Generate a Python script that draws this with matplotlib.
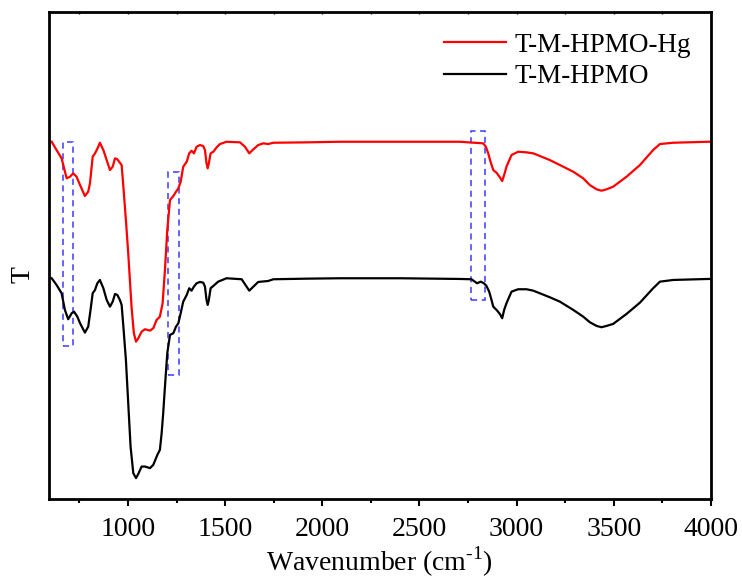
import matplotlib
matplotlib.use("Agg")
import matplotlib.pyplot as plt
from matplotlib.patches import Rectangle

plt.rcParams["font.family"] = "Liberation Serif"
plt.rcParams["mathtext.fontset"] = "custom"
plt.rcParams["mathtext.rm"] = "Liberation Serif"
plt.rcParams["font.size"] = 20

# T-M-HPMO-Hg (red), arbitrary transmittance units
wn_hg = [607, 632, 658, 684, 701, 718, 735, 753, 778, 795, 804, 818, 830, 847, 855,
         873, 890, 907, 921, 933, 945, 958, 967, 976, 989, 1001, 1018, 1030, 1041,
         1053, 1070, 1087, 1113, 1130, 1147, 1164, 1178, 1190, 1202, 1216, 1233,
         1247, 1259, 1271, 1284, 1302, 1315, 1327, 1339, 1353, 1370, 1387, 1396,
         1404, 1410, 1416, 1425, 1439, 1456, 1473, 1507, 1576, 1602, 1624, 1645,
         1670, 1696, 1722, 1748, 1919, 2091, 2400, 2708, 2828, 2842, 2854, 2866,
         2880, 2897, 2914, 2926, 2936, 2948, 2974, 3008, 3051, 3086, 3171, 3223,
         3292, 3343, 3377, 3412, 3437, 3463, 3497, 3566, 3635, 3703, 3738, 3806,
         3986, 4000]
t_hg = [357.3, 349, 340.7, 320.7, 322.3, 325.7, 322.3, 314, 303, 307.3, 315.7, 342.3,
        345.7, 352.3, 356.3, 349, 339, 329, 332.3, 340.7, 339.7, 336.3, 334, 312.3,
        279, 245.7, 192.3, 165.7, 157.3, 160.7, 167.3, 169.7, 168.3, 170.7, 179,
        182.3, 195.7, 229, 269, 299, 303, 307.3, 310.7, 317.3, 332.3, 337.3, 345.7,
        348.3, 345.7, 352.3, 354, 353, 349, 335.7, 330.7, 335.7, 345.7, 347.3, 351.7,
        355, 357.3, 356.7, 352.3, 345.7, 349.7, 354, 355.7, 355, 356.3, 356.7, 357.3,
        357.3, 357.3, 355.7, 352.3, 345.7, 337.3, 329, 326.3, 321.7, 318, 324, 332.3,
        344, 347.3, 346.7, 345.7, 339, 334, 327.3, 320.7, 314, 309.7, 308.3, 309.7,
        312.3, 322.3, 334, 349, 355, 356.3, 357.3, 357.3]

# T-M-HPMO (black)
wn_t = [607, 632, 658, 675, 692, 710, 722, 739, 753, 778, 795, 807, 818, 830, 842,
        855, 873, 890, 907, 921, 933, 945, 958, 967, 976, 989, 1001, 1013, 1027,
        1041, 1053, 1070, 1087, 1113, 1130, 1151, 1164, 1173, 1181, 1190, 1202,
        1216, 1233, 1247, 1259, 1271, 1284, 1302, 1315, 1327, 1339, 1353, 1370,
        1387, 1396, 1404, 1410, 1416, 1425, 1439, 1464, 1507, 1585, 1624, 1645,
        1670, 1722, 1748, 1919, 2091, 2400, 2708, 2768, 2785, 2797, 2815, 2832,
        2845, 2859, 2871, 2880, 2897, 2914, 2926, 2936, 2948, 2974, 3008, 3051,
        3086, 3171, 3223, 3292, 3343, 3377, 3412, 3437, 3463, 3497, 3566, 3635,
        3703, 3738, 3806, 3986, 4000]
t_t = [220.7, 214, 205.7, 189, 179.7, 185.7, 187.3, 182.3, 175.7, 166.3, 172.3, 189,
       205.7, 209, 215.7, 219, 210.7, 199, 192.3, 197.3, 205, 204, 199, 194, 172.3,
       139, 95.7, 52.3, 25.7, 20.7, 25, 32.3, 32.3, 30.7, 34, 44, 49, 65.7, 85.7,
       112.3, 145.7, 164, 165.7, 172.3, 175.7, 185.7, 197.3, 204, 210.7, 208.3,
       212.3, 215.7, 217, 216.3, 212.3, 199, 194, 199, 210.7, 213, 217.3, 220.7,
       219.7, 208.3, 212.3, 217, 218, 219.7, 220.3, 220.7, 220.7, 220, 219.7, 217.3,
       215.7, 217.3, 215.7, 213, 207.3, 199, 192.3, 189, 185, 180.7, 189, 195.7,
       207.3, 209.7, 209.7, 208.3, 201.7, 197.3, 189, 182.3, 176.7, 173, 171.7, 173,
       175, 185, 196.3, 210.7, 217.3, 219, 220, 220]

# highlighted regions: (wn_min, wn_max, t_min, t_max)
boxes = [(663, 718, 153, 357), (1207, 1264, 124, 327), (2765, 2837, 199, 368)]

fig = plt.figure(figsize=(7.42, 5.78), dpi=100)
ax = fig.add_axes([0.066, 0.137, 0.892, 0.842])

ax.plot(wn_hg, t_hg, color="red", lw=1.6, label="T-M-HPMO-Hg")
ax.plot(wn_t, t_t, color="black", lw=1.6, label="T-M-HPMO")

for x0, x1, y0, y1 in boxes:
    ax.add_patch(Rectangle((x0, y0), x1 - x0, y1 - y0, fill=False,
                           edgecolor="#3a3aff", lw=1.1, linestyle=(0, (4, 3))))

ax.set_xlim(593, 4000)
ax.set_ylim(0, 487)
ax.set_xticks(range(1000, 4001, 500))
ax.set_xticks(range(750, 4000, 500), minor=True)
ax.set_yticks([])
ax.tick_params(axis="x", which="major", direction="out", length=5, width=1.5, pad=8)
ax.tick_params(axis="x", which="minor", direction="out", length=3, width=1.5)
ax.tick_params(axis="x", which="both", top=True, labeltop=False)
for s in ax.spines.values():
    s.set_linewidth(2)
# tiny inward ticks on top spine
for t in ax.xaxis.get_major_ticks() + ax.xaxis.get_minor_ticks():
    t.tick2line.set_marker(3)
    t.tick2line.set_markersize(1.5)
    t.tick2line.set_markeredgewidth(1)

ax.set_xlabel("Wavenumber (cm$^{\\text{-1}}$)", labelpad=2)
ax.set_ylabel("T")
ax.yaxis.set_label_coords(-0.02, 0.46)

ax.legend(loc="upper right", bbox_to_anchor=(1.007, 1.008), frameon=False,
          handlelength=2.3, handletextpad=0.3, labelspacing=0.25, fontsize=19.5)

fig.savefig("out.png", dpi=100)
